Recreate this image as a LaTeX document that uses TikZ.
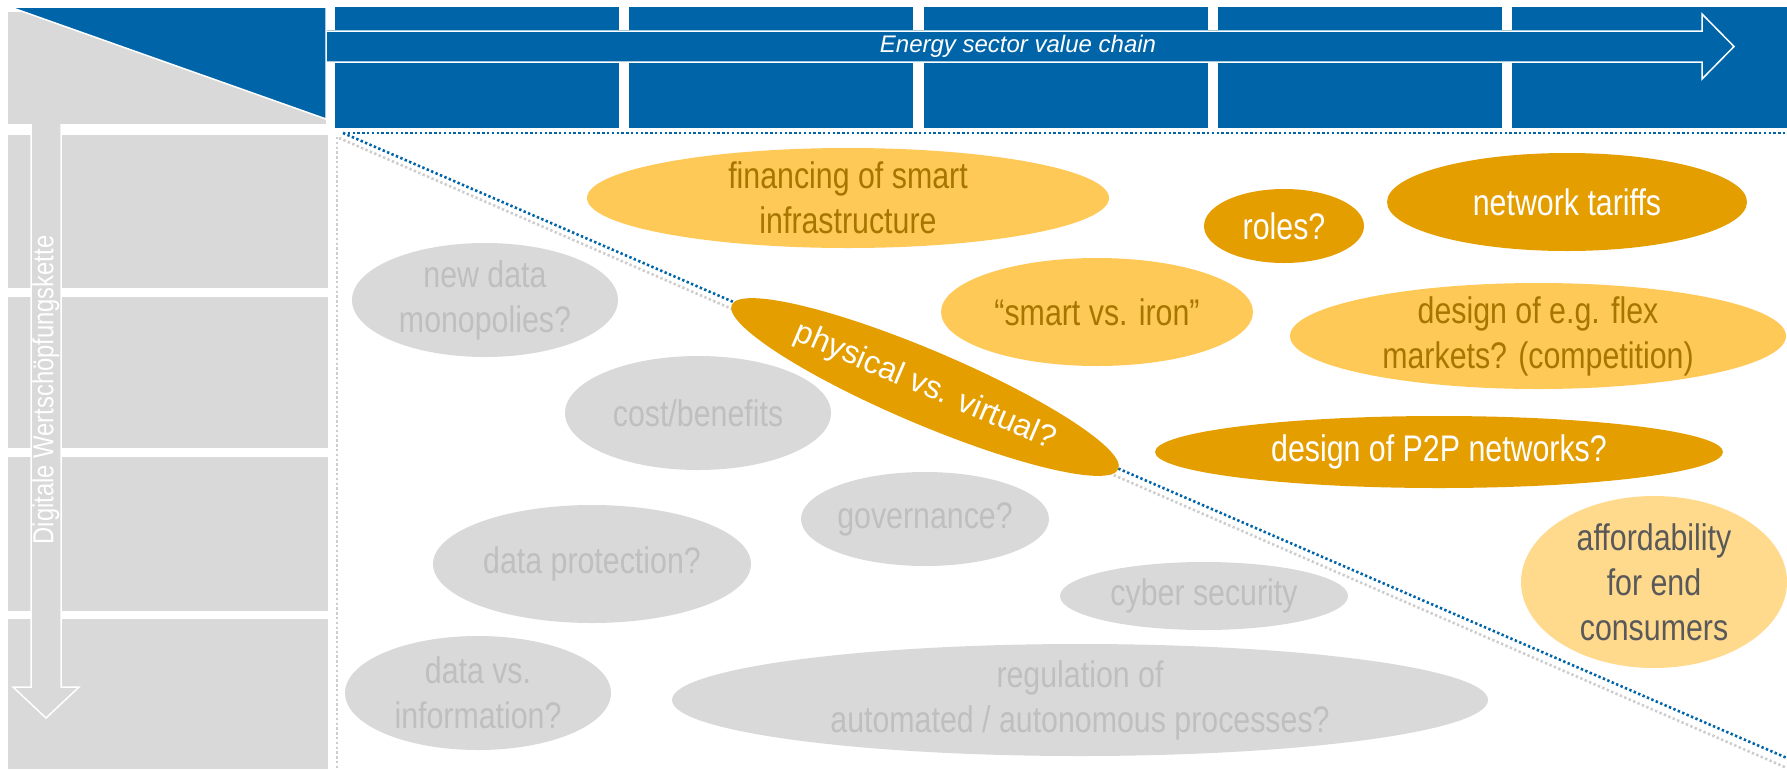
\documentclass[tikz,border=0pt]{standalone}
\usepackage{fontspec}
\setmainfont{Liberation Sans}[FakeStretch=0.82]
\newfontfamily\widefont{Liberation Sans}
\usepackage{xcolor}
\usetikzlibrary{shapes.geometric}

\definecolor{chainblue}{RGB}{0,101,168}
\definecolor{darkgold}{RGB}{229,158,0}
\definecolor{lightgold}{RGB}{255,201,87}
\definecolor{palegold}{RGB}{255,218,140}
\definecolor{panelgray}{RGB}{217,217,217}
\definecolor{dotgray}{RGB}{205,205,205}
\definecolor{fadedtext}{RGB}{191,191,191}
\definecolor{goldtext}{RGB}{166,118,0}
\definecolor{darktext}{RGB}{89,89,89}

\begin{document}
\begin{tikzpicture}[x=1pt,y=-1pt,
    issue/.style={ellipse, inner sep=0pt, outer sep=0pt},
    oval/.style 2 args={minimum width=#1pt, minimum height=#2pt},
    words/.style={align=center, inner sep=0pt, font=\fontsize{37}{45}\selectfont},
    greyissue/.style={issue, fill=panelgray},
    softissue/.style={issue, fill=lightgold},
    paleissue/.style={issue, fill=palegold},
    hotissue/.style={issue, fill=darkgold},
    greywords/.style={words, text=fadedtext},
    softwords/.style={words, text=goldtext},
    palewords/.style={words, text=darktext},
    hotwords/.style={words, text=white},
    dots/.style={line width=2.6pt, dash pattern=on 2.4pt off 2.4pt}]
  \useasboundingbox (0,0) rectangle (1787,769);

  % header: corner and value chain
  \fill[panelgray] (8,12) rectangle (326,124);
  \filldraw[fill=chainblue, draw=white, line width=1.5pt] (10,7) -- (326,7) -- (326,119) -- cycle;
  \foreach \k in {0,...,3}
    \fill[chainblue] ({335+294.25*\k},7) rectangle +(284,121);
  \fill[chainblue] (1512,7) rectangle (1787,128);
  \fill[chainblue] (327,30) rectangle (1787,63);
  \draw[white, line width=1.5pt] (327,31) -- (1702,31) -- (1702,14) -- (1734,46.5)
    -- (1702,79) -- (1702,62) -- (327,62);
  \node[text=white, inner sep=0pt, font=\widefont\itshape\fontsize{24}{28}\selectfont] (chain) at (1018,46.5) {Energy sector value chain};

  % left panel with the digital chain
  \foreach \ya/\yb in {135/288, 297/448, 457/611, 619/769}
    \fill[panelgray] (8,\ya) rectangle (328,\yb);
  \filldraw[fill=panelgray, draw=white, line width=1.5pt] (31,124) -- (31,687) -- (13,687)
    -- (46,718) -- (79,687) -- (61,687) -- (61,124);
  \node[rotate=90, text=white, inner sep=0pt, font=\fontsize{29}{34}\selectfont] (digital) at (46,390) {Digitale Wertschöpfungskette};

  % dotted borders
  \draw[dots, dotgray] (337,137) -- (337,769);
  \draw[dots, dotgray] (339,138) -- (1787,768);
  \draw[dots, chainblue] (343,133) -- (1787,133);
  \draw[dots, chainblue] (343,133) -- (1787,758);

  % issues
  \node[softissue, oval={522}{100}, label={[softwords]center:financing of smart\\infrastructure}] (financing) at (848,198) {};
  \node[hotissue, oval={160}{74}, label={[hotwords]center:roles?}] (roles) at (1284,226) {};
  \node[hotissue, oval={360}{98}, label={[hotwords]center:network tariffs}] (tariffs) at (1567,202) {};
  \node[greyissue, oval={266}{114}, label={[greywords]center:new data\\monopolies?}] (monopolies) at (485,300) {};
  \node[softissue, oval={312}{108}, label={[softwords]center:“smart vs. iron”}] (smartiron) at (1097,312) {};
  \node[softissue, oval={496}{106}, label={[softwords]center:design of e.g. flex\\markets? (competition)}] (flex) at (1538,336) {};
  \node[hotissue, oval={420}{74}, rotate=-23, text=white, font=\widefont\fontsize{32}{38}\selectfont] (physical) at (925,387) {physical vs. virtual?};
  \node[greyissue, oval={266}{114}, label={[greywords]center:cost/benefits}] (costs) at (698,413) {};
  \node[hotissue, oval={568}{72}, label={[hotwords]center:design of P2P networks?}] (ptwop) at (1439,452) {};
  \node[greyissue, oval={248}{94}, label={[greywords]center:governance?}] (governance) at (925,519) {};
  \node[greyissue, oval={318}{118}, label={[greywords]center:data protection?}] (protection) at (592,564) {};
  \node[greyissue, oval={288}{68}, label={[greywords]center:cyber security}] (cyber) at (1204,596) {};
  \node[paleissue, oval={266}{172}, label={[palewords]center:affordability\\for end\\consumers}] (afford) at (1654,582) {};
  \node[greyissue, oval={266}{114}, label={[greywords]center:data vs.\\information?}] (datainfo) at (478,693) {};
  \node[greyissue, oval={816}{112}, label={[greywords]center:regulation of\\automated / autonomous processes?}] (regulation) at (1080,700) {};
\end{tikzpicture}
\end{document}
